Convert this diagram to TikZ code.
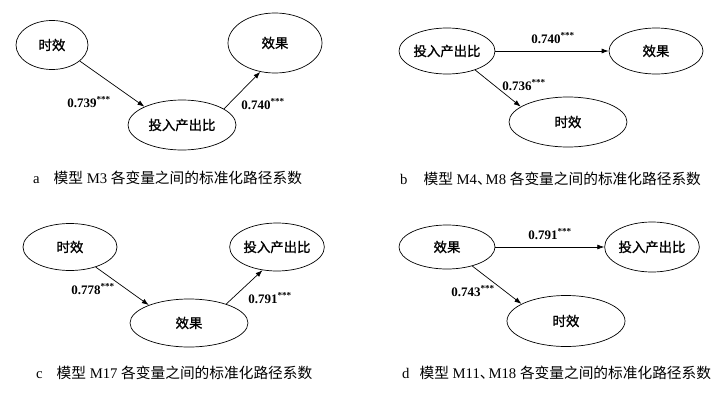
\documentclass[tikz,border=0pt]{standalone}
\usepackage{fontspec}
\setmainfont{Liberation Serif}
\newfontfamily\cjk{Noto Sans CJK SC}
\newfontfamily\cjkbold[FakeBold=1.2]{Noto Sans CJK SC}
\usetikzlibrary{shapes.geometric,arrows.meta}
\tikzset{
  var/.style={draw, ellipse, line width=0.7pt, inner sep=0pt, font=\cjkbold\fontsize{13.4}{15}\selectfont},
  coef/.style={font=\bfseries\fontsize{13}{15}\selectfont, inner sep=1pt},
  path/.style={-{Latex[length=7pt,width=5pt]}, line width=0.7pt},
  caption/.style={anchor=west, inner sep=0pt, font=\fontsize{14.7}{17}\selectfont}
}
\newcommand{\dun}{{\cjk 、}\hspace{-6pt}}
\begin{document}
\begin{tikzpicture}[x=1pt,y=-1pt]
\useasboundingbox (0,0) rectangle (726,402);

% a
\node[var, minimum width=72pt, minimum height=49pt] (a1) at (52,45) {时效};
\node[var, minimum width=94pt, minimum height=60pt] (a2) at (275,43) {效果};
\node[var, minimum width=108pt, minimum height=50pt] (a3) at (182,125) {投入产出比};
\draw[path] (a1.-30) -- (a3.154);
\draw[path] (a3.21) -- (a2.243);
\node[coef] (la1) at (89,102) {0.739\textsuperscript{***}};
\node[coef] (la2) at (263,104) {0.740\textsuperscript{***}};
\node[caption] (ca) at (33,178) {a\hspace{14pt}{\cjk 模型} M3 {\cjk 各变量之间的标准化路径系数}};

% b
\node[var, minimum width=96pt, minimum height=46pt] (b1) at (447,51) {投入产出比};
\node[var, minimum width=94pt, minimum height=46pt] (b2) at (656,51) {效果};
\node[var, minimum width=118pt, minimum height=50pt] (b3) at (568,122) {时效};
\draw[path] (b1) -- (b2);
\draw[path] (b1.-34) -- (b3.162);
\node[coef] (lb1) at (553,38) {0.740\textsuperscript{***}};
\node[coef] (lb2) at (524,85) {0.736\textsuperscript{***}};
\node[caption] (cb) at (400,179) {b\hspace{16pt}{\cjk 模型} M4\dun M8 {\cjk 各变量之间的标准化路径系数}};

% c
\node[var, minimum width=94pt, minimum height=47pt] (c1) at (70,247) {时效};
\node[var, minimum width=92pt, minimum height=48pt] (c3) at (277,247) {投入产出比};
\node[var, minimum width=118pt, minimum height=48pt] (c2) at (189,323) {效果};
\draw[path] (c1.-38) -- (c2.156);
\draw[path] (c2.27) -- (c3.238);
\node[coef] (lc1) at (93,289) {0.778\textsuperscript{***}};
\node[coef] (lc2) at (270,298) {0.791\textsuperscript{***}};
\node[caption] (cc) at (36,373) {c\hspace{14pt}{\cjk 模型} M17 {\cjk 各变量之间的标准化路径系数}};

% d
\node[var, minimum width=96pt, minimum height=44pt] (d1) at (447,247) {效果};
\node[var, minimum width=94pt, minimum height=50pt] (d3) at (652,247) {投入产出比};
\node[var, minimum width=118pt, minimum height=51pt] (d2) at (566,321) {时效};
\draw[path] (d1) -- (d3);
\draw[path] (d1.-37) -- (d2.159);
\node[coef] (ld1) at (550,234) {0.791\textsuperscript{***}};
\node[coef] (ld2) at (473,291) {0.743\textsuperscript{***}};
\node[caption] (cd) at (402,373) {d\hspace{10pt}{\cjk 模型} M11\dun M18 {\cjk 各变量之间的标准化路径系数}};
\end{tikzpicture}
\end{document}
